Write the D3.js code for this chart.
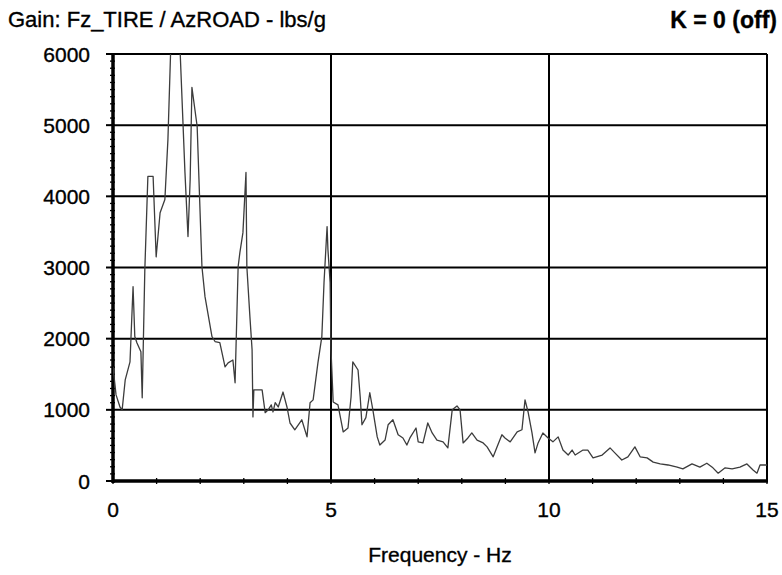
<!DOCTYPE html>
<html>
<head>
<meta charset="utf-8">
<script src="https://cdn.jsdelivr.net/npm/d3@7/dist/d3.min.js"></script>
<style>
  html, body { margin: 0; padding: 0; background: #fff; }
  svg { display: block; }
  text { font-family: "Liberation Sans", Arial, Helvetica, sans-serif; fill: #000; stroke: #000; stroke-width: 0.35px; }
</style>
</head>
<body>
<svg id="chart" width="782" height="575"></svg>
<script>
// ---- data ----
const freqHz = [
  0.00, 0.07, 0.16, 0.21, 0.28, 0.39, 0.46, 0.50, 0.55, 0.64, 0.67, 0.73, 0.80, 0.92, 0.99,
  1.08, 1.19, 1.26, 1.33, 1.42, 1.54, 1.65, 1.72, 1.77, 1.81, 1.93, 2.04, 2.11, 2.27, 2.34,
  2.45, 2.57, 2.64, 2.75, 2.80, 2.87, 2.91, 2.98, 3.05, 3.07, 3.14, 3.19, 3.21, 3.23, 3.42,
  3.49, 3.56, 3.63, 3.67, 3.72, 3.79, 3.90, 3.99, 4.06, 4.17, 4.33, 4.45, 4.52, 4.59, 4.70,
  4.79, 4.84, 4.91, 4.93, 4.98, 5.00, 5.05, 5.16, 5.28, 5.39, 5.46, 5.50, 5.62, 5.67, 5.71,
  5.80, 5.89, 5.96, 6.06, 6.12, 6.24, 6.31, 6.42, 6.54, 6.65, 6.74, 6.81, 6.95, 7.00, 7.11,
  7.22, 7.32, 7.43, 7.57, 7.68, 7.78, 7.89, 7.96, 8.03, 8.14, 8.23, 8.35, 8.49, 8.58, 8.72,
  8.81, 8.92, 8.99, 9.11, 9.27, 9.38, 9.45, 9.52, 9.61, 9.68, 9.75, 9.86, 9.98, 10.09, 10.21,
  10.32, 10.44, 10.53, 10.60, 10.78, 10.89, 11.01, 11.22, 11.40, 11.51, 11.67, 11.81, 11.97, 12.09, 12.25,
  12.39, 12.55, 12.73, 12.94, 13.07, 13.28, 13.46, 13.62, 13.76, 13.88, 14.04, 14.20, 14.38, 14.54, 14.68,
  14.77, 14.84, 15.00
];
const gainLbsPerG = [
  1605, 1210, 1040, 1000, 1420, 1675, 2730, 2030, 1940, 1815, 1170, 2970, 4280, 4280, 3150,
  3770, 3955, 4800, 6200, 6800, 6030, 4340, 3435, 4240, 5530, 4985, 3010, 2590, 2030, 1960,
  1945, 1605, 1660, 1700, 1380, 3010, 3210, 3490, 4335, 3010, 2310, 1845, 900, 1280, 1280,
  960, 1000, 1070, 970, 1100, 1040, 1250, 1040, 815, 720, 860, 620, 1100, 1140, 1660,
  2030, 2790, 3575, 3250, 2790, 1845, 1110, 1070, 690, 745, 1180, 1675, 1560, 1180, 790,
  890, 1240, 1000, 620, 505, 575, 790, 860, 650, 605, 505, 605, 745, 550, 535,
  815, 675, 575, 550, 465, 1000, 1055, 1000, 535, 605, 675, 575, 535, 480, 340,
  480, 650, 605, 550, 690, 720, 1140, 970, 675, 395, 535, 675, 605, 550, 620,
  435, 365, 435, 365, 435, 435, 325, 365, 465, 395, 295, 340, 480, 340, 325,
  265, 240, 225, 195, 170, 240, 195, 250, 185, 110, 185, 170, 195, 240, 155,
  110, 225, 225
];
const yTickValues = [0, 1000, 2000, 3000, 4000, 5000, 6000];
const xTickValues = [0, 5, 10, 15];
const titleText = "Gain: Fz_TIRE / AzROAD - lbs/g";
const statusText = "K = 0 (off)";
const xAxisTitle = "Frequency - Hz";

// ---- layout ----
const svg = d3.select("#chart");
const pLeft = 113, pRight = 767, pTop = 54, pBottom = 481;

const x = d3.scaleLinear().domain([0, 15]).range([pLeft, pRight]);
const y = d3.scaleLinear().domain([0, 6000]).range([pBottom, pTop]);

// clip
svg.append("defs").append("clipPath").attr("id", "plotClip")
  .append("rect").attr("x", pLeft).attr("y", pTop).attr("width", pRight - pLeft).attr("height", pBottom - pTop);

// horizontal gridlines
svg.append("g").selectAll("line").data(yTickValues.filter(d => d > 0)).join("line")
  .attr("x1", pLeft).attr("x2", pRight)
  .attr("y1", d => y(d)).attr("y2", d => y(d))
  .attr("stroke", "#000").attr("stroke-width", 2);

// vertical gridlines
svg.append("g").selectAll("line").data(xTickValues.filter(d => d > 0)).join("line")
  .attr("x1", d => x(d)).attr("x2", d => x(d))
  .attr("y1", pTop).attr("y2", pBottom)
  .attr("stroke", "#000").attr("stroke-width", 2);

// minor ticks on y axis (every 100)
const yMinor = d3.range(0, 6001, 100);
svg.append("g").selectAll("line").data(yMinor).join("line")
  .attr("x1", pLeft - 3).attr("x2", pLeft + 2)
  .attr("y1", d => y(d)).attr("y2", d => y(d))
  .attr("stroke", "#000").attr("stroke-width", 1.3);

// minor ticks on x axis (every 1 Hz)
const xMinor = d3.range(0, 16, 1);
svg.append("g").selectAll("line").data(xMinor).join("line")
  .attr("x1", d => x(d)).attr("x2", d => x(d))
  .attr("y1", pBottom - 3).attr("y2", pBottom + 3)
  .attr("stroke", "#000").attr("stroke-width", 1.3);

// major tick stubs on y axis
svg.append("g").selectAll("line").data(yTickValues).join("line")
  .attr("x1", pLeft - 7).attr("x2", pLeft)
  .attr("y1", d => y(d)).attr("y2", d => y(d))
  .attr("stroke", "#000").attr("stroke-width", 2);

// axes (thick)
svg.append("line").attr("x1", pLeft).attr("x2", pLeft).attr("y1", pTop - 1).attr("y2", pBottom + 2)
  .attr("stroke", "#000").attr("stroke-width", 3.5);
svg.append("line").attr("x1", pLeft - 1).attr("x2", pRight + 1).attr("y1", pBottom).attr("y2", pBottom)
  .attr("stroke", "#000").attr("stroke-width", 3.5);

// data curve
const line = d3.line().x((d, i) => x(freqHz[i])).y(d => y(d));
svg.append("path")
  .attr("clip-path", "url(#plotClip)")
  .attr("d", line(gainLbsPerG))
  .attr("fill", "none")
  .attr("stroke", "#3c3c3c")
  .attr("stroke-width", 1.3)
  .attr("stroke-linejoin", "round");

// y tick labels
svg.append("g").selectAll("text").data(yTickValues).join("text")
  .attr("x", 90).attr("y", d => y(d) + 7.5)
  .attr("text-anchor", "end")
  .attr("font-size", 21)
  .text(d => d);

// x tick labels
svg.append("g").selectAll("text").data(xTickValues).join("text")
  .attr("x", d => x(d)).attr("y", 517)
  .attr("text-anchor", "middle")
  .attr("font-size", 21)
  .text(d => d);

// titles
svg.append("text").attr("x", 8).attr("y", 27).attr("font-size", 22).text(titleText);
svg.append("text").attr("x", 777).attr("y", 28).attr("font-size", 23).attr("font-weight", "bold")
  .attr("text-anchor", "end").text(statusText);
svg.append("text").attr("x", 440).attr("y", 562).attr("font-size", 21)
  .attr("text-anchor", "middle").text(xAxisTitle);
</script>
</body>
</html>
